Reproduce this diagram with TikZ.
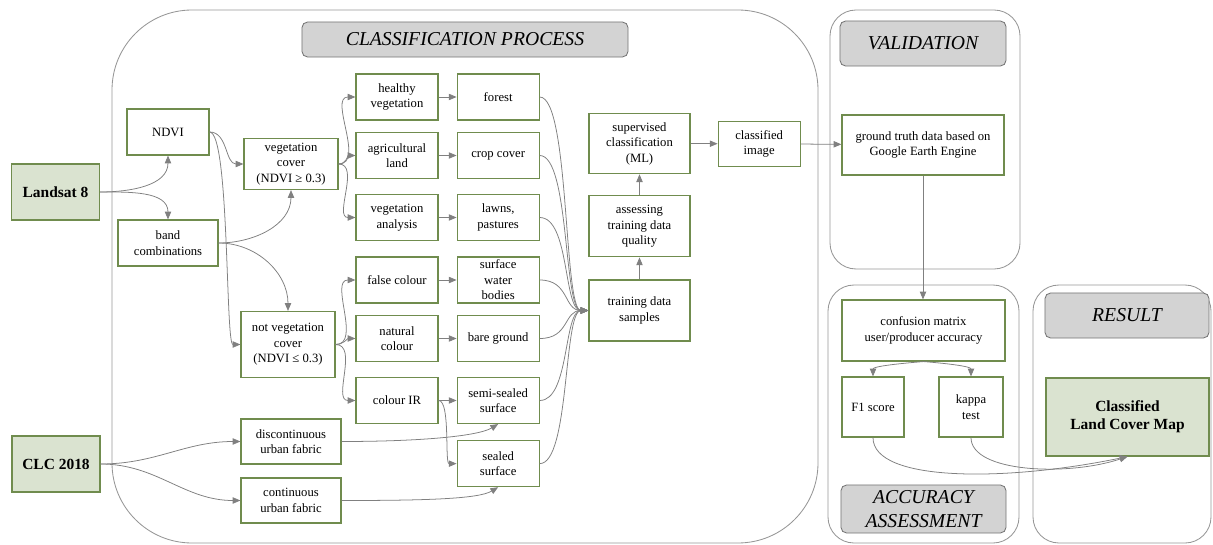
\documentclass[tikz,border=0pt]{standalone}
\usepackage{fontspec}
\setmainfont{Liberation Serif}
\usepackage{tikz}
\usetikzlibrary{arrows.meta,positioning}
\definecolor{boxgreen}{RGB}{112,140,78}
\definecolor{landfill}{RGB}{218,227,208}
\definecolor{titlegrey}{RGB}{211,211,211}
\definecolor{linegrey}{RGB}{128,128,128}
\definecolor{panelgrey}{RGB}{150,150,150}

\begin{document}
\begin{tikzpicture}[x=0.025cm, y=0.025cm,
    proc/.style={rectangle, draw=boxgreen, line width=0.8pt, fill=white,
        align=center, font=\fontsize{9}{11}\selectfont, inner sep=1pt,
        minimum width=2.05cm, minimum height=1.15cm},
    source/.style={proc, fill=landfill, font=\fontsize{11}{13}\selectfont\bfseries,
        minimum width=2.2cm, minimum height=1.4cm},
    panel/.style={draw=panelgrey, line width=0.6pt},
    paneltitle/.style={rectangle, draw=gray!90!black, fill=titlegrey, rounded corners=4pt,
        line width=0.6pt, align=center, inner sep=1pt, font=\fontsize{14}{17}\selectfont\itshape,
        minimum width=4.15cm, minimum height=1.125cm},
    link/.style={draw=linegrey, line width=0.55pt, -{Triangle[length=5.5pt,width=4.5pt]}}
]
\useasboundingbox (0,0) rectangle (1213,-545);

\draw[panel, rounded corners=2cm] (112,-10) rectangle (818,-543);
\draw[panel, rounded corners=0.65cm] (830,-10) rectangle (1020,-269);
\draw[panel, rounded corners=0.65cm] (828,-285) rectangle (1019,-543);
\draw[panel, rounded corners=0.65cm] (1033,-285) rectangle (1211,-543);

\node[paneltitle, minimum width=8.15cm, minimum height=0.875cm] (tclass) at (465,-39.5) {CLASSIFICATION PROCESS};
\node[paneltitle] (tvalid) at (923,-43.5) {VALIDATION};
\node[paneltitle, minimum width=4.125cm, minimum height=1.2cm] (tacc) at (923.5,-509) {ACCURACY\\ASSESSMENT};
\node[paneltitle, minimum width=4.1cm] (tresult) at (1127,-315.5) {RESULT};

\node[source] (landsat) at (55.5,-192) {Landsat 8};
\node[source] (clc) at (56,-464) {CLC 2018};
\node[proc] (ndvi) at (168,-132) {NDVI};
\node[proc, minimum width=2.5cm] (band) at (168,-243) {band\\combinations};
\node[proc, minimum width=2.35cm, minimum height=1.275cm] (veg) at (291,-164) {vegetation\\cover\\(NDVI ≥ 0.3)};
\node[proc, minimum width=2.35cm, minimum height=1.65cm] (notveg) at (288,-344.5) {not vegetation\\cover\\(NDVI ≤ 0.3)};

\node[proc] (healthy) at (397,-97) {healthy\\vegetation};
\node[proc] (agri) at (397,-155.5) {agricultural\\land};
\node[proc] (veganal) at (397,-217.5) {vegetation\\analysis};
\node[proc] (falsec) at (397,-280) {false colour};
\node[proc] (naturalc) at (397,-338.5) {natural\\colour};
\node[proc] (colourir) at (397,-400.5) {colour IR};

\node[proc, right=0.45cm of healthy] (forest) {forest};
\node[proc, right=0.45cm of agri] (crop) {crop cover};
\node[proc, right=0.45cm of veganal] (lawns) {lawns,\\pastures};
\node[proc, right=0.45cm of falsec, inner sep=0pt] (water) {surface\\water\\bodies};
\node[proc, right=0.45cm of naturalc] (bare) {bare ground};
\node[proc, right=0.45cm of colourir] (semi) {semi-sealed\\surface};
\node[proc, below=0.4cm of semi] (sealed) {sealed\\surface};

\node[proc, minimum width=2.5cm, minimum height=1.125cm] (discont) at (291,-441.5) {discontinuous\\urban fabric};
\node[proc, minimum width=2.5cm, minimum height=1.125cm] (cont) at (291,-500.5) {continuous\\urban fabric};

\node[proc, minimum width=2.525cm, minimum height=1.525cm] (train) at (639.5,-310.5) {training data\\samples};
\node[proc, minimum width=2.525cm, minimum height=1.525cm, above=0.55cm of train] (assess) {assessing\\training data\\quality};
\node[proc, minimum width=2.525cm, minimum height=1.5cm, above=0.525cm of assess] (superv) {supervised\\classification\\(ML)};
\node[proc, minimum height=1.125cm, right=0.675cm of superv] (classimg) {classified\\image};

\node[proc, minimum width=4.05cm, minimum height=1.5cm] (truth) at (923,-145) {ground truth data based on\\Google Earth Engine};
\node[proc, minimum width=4.075cm, minimum height=1.525cm] (confusion) at (923.5,-330.5) {confusion matrix\\user/producer accuracy};
\node[proc, minimum width=1.55cm, minimum height=1.5cm] (fscore) at (873,-407) {F1 score};
\node[proc, minimum width=1.6cm, minimum height=1.5cm] (kappa) at (971,-407) {kappa\\test};
\node[source, minimum width=4.075cm, minimum height=1.95cm] (lcmap) at (1127.5,-417) {Classified\\Land Cover Map};

\draw[link] (landsat.east) to[out=0,in=-90] (ndvi.south);
\draw[link] (landsat.east) to[out=0,in=90] (band.north);
\draw[link] (ndvi.east) to[out=0,in=180] (veg.west);
\draw[link] (ndvi.east) .. controls +(20,0) and +(-15,0) .. (notveg.west);
\draw[link] (band.east) to[out=0,in=-90] (veg.south);
\draw[link] (band.east) to[out=0,in=90] (notveg.north);
\foreach \t in {healthy,agri,veganal}
    \draw[link] (veg.east) to[out=0,in=180] (\t.west);
\foreach \t in {falsec,naturalc,colourir}
    \draw[link] (notveg.east) to[out=0,in=180] (\t.west);
\foreach \a/\b in {healthy/forest,agri/crop,veganal/lawns,falsec/water,naturalc/bare,colourir/semi}
    \draw[link] (\a) -- (\b);
\draw[link] (colourir.east) .. controls +(12,0) and +(-12,0) .. (sealed.west);

\draw[link] (clc.east) to[out=0,in=180] (discont.west);
\draw[link] (clc.east) to[out=0,in=180] (cont.west);
\draw[link] (discont.east) .. controls +(80,0) and +(-20,-12) .. (semi.south);
\draw[link] (cont.east) .. controls +(80,0) and +(-20,-12) .. (sealed.south);

\foreach \s in {forest,crop,lawns,water,bare,semi,sealed}
    \draw[link] (\s.east) .. controls +(30,0) and +(-25,0) .. (train.west);
\draw[link] (train) -- (assess);
\draw[link] (assess) -- (superv);
\draw[link] (superv) -- (classimg);
\draw[link] (classimg) -- (truth);

\draw[link] (truth.south) -- (truth.south |- confusion.north);
\draw[link] (confusion.south) .. controls +(-25,-2) and +(0,10) .. (fscore.north);
\draw[link] (confusion.south) .. controls +(25,-2) and +(0,10) .. (kappa.north);
\draw[link] (fscore.south) .. controls +(0,-45) and +(-120,-25) .. (lcmap.south);
\draw[link] (kappa.south) .. controls +(0,-35) and +(-60,-20) .. (lcmap.south);
\end{tikzpicture}
\end{document}
